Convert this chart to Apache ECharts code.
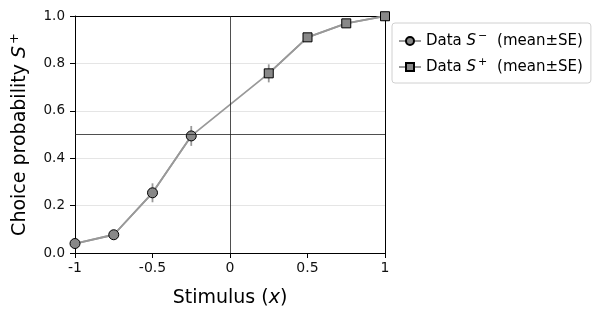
<!DOCTYPE html>
<html><head><meta charset="utf-8">
<script src="https://cdn.jsdelivr.net/npm/echarts@6/dist/echarts.min.js"></script>
<style>html,body{margin:0;padding:0;background:#fff}#c{width:600px;height:315px}</style>
</head><body><div id="c"></div>
<script>
const xMinus = [-1, -0.75, -0.5, -0.25];
const yMinus = [0.04, 0.077, 0.254, 0.494];
const seMinus = [0.006, 0.012, 0.04, 0.042];
const xPlus = [0.25, 0.5, 0.75, 1];
const yPlus = [0.758, 0.91, 0.969, 0.999];
const sePlus = [0.038, 0.016, 0.008, 0.003];
const xTicks = [-1, -0.5, 0, 0.5, 1];
const yTicks = [0, 0.2, 0.4, 0.6, 0.8, 1.0];

const nameMinus = 'Data {i|S}{sup|−} (mean±SE)';
const namePlus = 'Data {i|S}{sup|+} (mean±SE)';
const allPts = xMinus.map((x,i)=>[x,yMinus[i]]).concat(xPlus.map((x,i)=>[x,yPlus[i]]));
const errData = xMinus.map((x,i)=>[x,yMinus[i]-seMinus[i],yMinus[i]+seMinus[i]])
  .concat(xPlus.map((x,i)=>[x,yPlus[i]-sePlus[i],yPlus[i]+sePlus[i]]));

const font = 'DejaVu Sans';
function richFor(fs, gap){
  const s = Math.round(fs*0.7);
  return {
    i:{fontStyle:'italic',fontFamily:font,fontSize:fs,color:'#000',lineHeight:Math.round(fs*1.3)},
    sup:{fontFamily:font,fontSize:s,color:'#000',lineHeight:s,verticalAlign:'top',padding:[0,gap,0,2]}
  };
}
const frameAxis = {type:'value',min:-1,max:1,axisLine:{show:true,onZero:false,lineStyle:{color:'#000',width:1}},
  axisTick:{show:false},axisLabel:{show:false},splitLine:{show:false}};
const chart = echarts.init(document.getElementById('c'));
chart.setOption({
  animation:false,
  textStyle:{fontFamily:font},
  grid:{left:75,right:215,top:16,bottom:62,show:false,outerBoundsMode:'none',containLabel:false},
  legend:{
    left:392, top:23, orient:'vertical', itemGap:6, itemWidth:22, itemHeight:10,
    padding:[8,8,6,6], borderColor:'#d0d0d0', borderWidth:1, borderRadius:3,
    textStyle:{fontFamily:font,fontSize:15,color:'#000',lineHeight:18,rich:richFor(15,5)},
    data:[nameMinus,namePlus]
  },
  xAxis:[{type:'value',min:-1,max:1,interval:0.5,
    name:'Stimulus ({i|x})',nameLocation:'middle',nameGap:33,
    nameTextStyle:{fontSize:19,color:'#000',fontFamily:font,rich:richFor(19,0)},
    axisLine:{onZero:false,lineStyle:{color:'#000',width:1}},
    axisTick:{show:true,length:5,inside:false,lineStyle:{color:'#000'}},
    axisLabel:{fontSize:14,color:'#111',margin:8,formatter:v=>xTicks.includes(v)?String(v):''},
    splitLine:{show:false}},
    Object.assign({position:'top'},frameAxis)],
  yAxis:[{type:'value',min:0,max:1,interval:0.2,
    name:'Choice probability {i|S}{sup|+}',nameLocation:'middle',nameGap:42,
    nameTextStyle:{fontSize:19,color:'#000',fontFamily:font,lineHeight:25,rich:richFor(19,0)},
    axisLine:{onZero:false,lineStyle:{color:'#000',width:1}},
    axisTick:{show:true,length:5,lineStyle:{color:'#000'}},
    axisLabel:{fontSize:13.5,color:'#111',margin:10,formatter:v=>yTicks.some(t=>Math.abs(t-v)<1e-9)?v.toFixed(1):''},
    splitLine:{show:true,lineStyle:{color:'#e5e5e5',width:1}}},
    Object.assign({position:'right'},frameAxis,{min:0,max:1})],
  series:[
    {type:'line',name:'conn',data:allPts,showSymbol:false,silent:true,z:2,
     lineStyle:{color:'#999',width:1.8},
     markLine:{silent:true,symbol:'none',label:{show:false},lineStyle:{color:'#222',width:0.8,type:'solid'},
       data:[{xAxis:0},{yAxis:0.5}]}},
    {type:'custom',name:'err',z:3,silent:true,data:errData,
     renderItem:(p,api)=>{const a=api.coord([api.value(0),api.value(1)]);const b=api.coord([api.value(0),api.value(2)]);
       return {type:'line',shape:{x1:a[0],y1:a[1],x2:b[0],y2:b[1]},style:{stroke:'#999',lineWidth:1.8}};}},
    {type:'line',name:nameMinus,data:xMinus.map((x,i)=>[x,yMinus[i]]),symbol:'circle',symbolSize:10,z:4,
     lineStyle:{color:'#999',width:1.8},itemStyle:{color:'#888',borderColor:'#000',borderWidth:1}},
    {type:'line',name:namePlus,data:xPlus.map((x,i)=>[x,yPlus[i]]),symbol:'rect',symbolSize:9,z:4,
     lineStyle:{color:'#999',width:1.8},itemStyle:{color:'#888',borderColor:'#000',borderWidth:1}}
  ]
});
</script></body></html>
